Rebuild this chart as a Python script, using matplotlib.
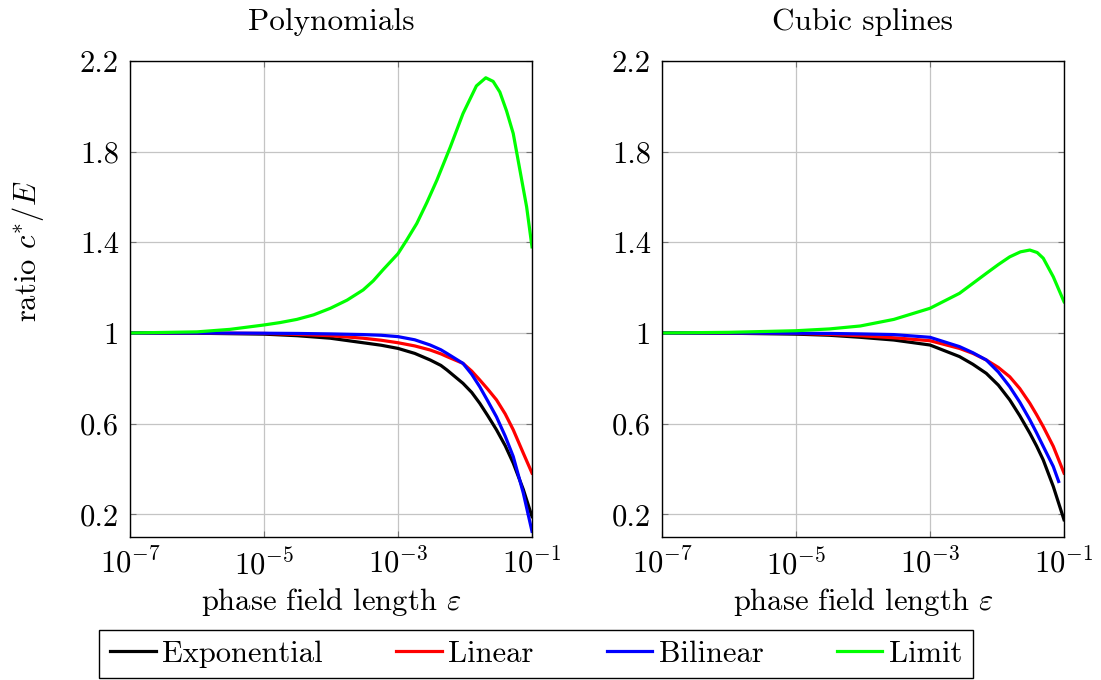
import numpy as np
import matplotlib
matplotlib.use("Agg")
import matplotlib.pyplot as plt
from matplotlib.ticker import FixedLocator, FixedFormatter, NullLocator

plt.rcParams['font.family'] = 'cmr10'
plt.rcParams['mathtext.fontset'] = 'cm'
plt.rcParams['axes.formatter.use_mathtext'] = True
plt.rcParams['font.size'] = 22

# --- Polynomials (x given as log10 eps) ---
exps_poly = [-7, -6, -5, -4.5, -4.01, -3.52, -3.25, -3.0, -2.75, -2.52, -2.36, -2.27,
             -2.03, -1.9, -1.78, -1.66, -1.53, -1.4, -1.28, -1.13, -1.0]
poly_exponential = [1.0, 0.999, 0.995, 0.988, 0.977, 0.957, 0.946, 0.932, 0.91, 0.881, 0.857,
                    0.837, 0.778, 0.738, 0.69, 0.635, 0.573, 0.503, 0.426, 0.31, 0.19]
poly_linear = [1.0, 1.0, 0.998, 0.994, 0.988, 0.977, 0.968, 0.957, 0.943, 0.925, 0.908,
               0.896, 0.866, 0.832, 0.793, 0.752, 0.705, 0.643, 0.573, 0.47, 0.382]
poly_bilinear = [1.0, 1.0, 0.999, 0.998, 0.996, 0.993, 0.99, 0.984, 0.97, 0.947, 0.926,
                 0.91, 0.866, 0.818, 0.763, 0.70, 0.63, 0.545, 0.455, 0.294, 0.125]
exps_poly_limit = [-7, -6, -5.51, -5.01, -4.76, -4.51, -4.26, -4.01, -3.76, -3.52, -3.37,
                   -3.22, -3.11, -3.0, -2.87, -2.72, -2.57, -2.42, -2.22, -2.03, -1.83,
                   -1.69, -1.58, -1.48, -1.38, -1.28, -1.18, -1.08, -1.0]
poly_limit = [1.0, 1.005, 1.016, 1.035, 1.046, 1.06, 1.08, 1.109, 1.145, 1.19, 1.23,
              1.28, 1.315, 1.35, 1.41, 1.483, 1.575, 1.674, 1.82, 1.968, 2.09,
              2.126, 2.11, 2.063, 1.98, 1.88, 1.718, 1.556, 1.38]

# --- Cubic splines ---
exps_spl = [-7, -6, -5, -4.5, -4.04, -3.54, -3.0, -2.56, -2.36, -2.16, -1.98, -1.81,
            -1.66, -1.51, -1.41, -1.31, -1.16, -1.0]
spl_exponential = [1.0, 0.999, 0.995, 0.99, 0.981, 0.969, 0.947, 0.896, 0.862, 0.822,
                   0.77, 0.705, 0.635, 0.558, 0.502, 0.44, 0.323, 0.176]
spl_linear = [1.0, 1.0, 0.998, 0.994, 0.988, 0.979, 0.966, 0.932, 0.91, 0.881,
              0.848, 0.807, 0.755, 0.69, 0.64, 0.587, 0.5, 0.382]
exps_spl_bilinear = [-7, -6, -5, -4.5, -4.04, -3.54, -3.0, -2.56, -2.36, -2.16, -1.98,
                     -1.81, -1.66, -1.51, -1.41, -1.31, -1.16, -1.08]
spl_bilinear = [1.0, 1.0, 0.999, 0.998, 0.996, 0.993, 0.981, 0.94, 0.913, 0.881,
                0.828, 0.763, 0.695, 0.617, 0.56, 0.5, 0.411, 0.345]
exps_spl_limit = [-7, -6, -5, -4.5, -4.04, -3.54, -3.0, -2.56, -2.16, -1.98, -1.81,
                  -1.65, -1.51, -1.4, -1.31, -1.16, -1.0]
spl_limit = [1.0, 1.003, 1.01, 1.018, 1.031, 1.06, 1.109, 1.175, 1.263, 1.302, 1.336,
             1.358, 1.366, 1.355, 1.33, 1.248, 1.138]

labels = ['Exponential', 'Linear', 'Bilinear', 'Limit']
colors = ['black', '#ff0000', '#0000ff', '#00ff00']
titles = ['Polynomials', 'Cubic splines']
yticks = [0.2, 0.6, 1.0, 1.4, 1.8, 2.2]
ytick_labels = ['0.2', '0.6', '1', '1.4', '1.8', '2.2']
xticks = [1e-7, 1e-5, 1e-3, 1e-1]


def style_axes(ax, title):
    ax.set_xscale('log')
    ax.set_xlim(1e-7, 1e-1)
    ax.set_ylim(0.1, 2.2)
    ax.xaxis.set_major_locator(FixedLocator(xticks))
    ax.xaxis.set_minor_locator(NullLocator())
    ax.yaxis.set_major_locator(FixedLocator(yticks))
    ax.yaxis.set_major_formatter(FixedFormatter(ytick_labels))
    ax.grid(True, color='#c4c4c4', lw=0.9)
    ax.tick_params(direction='in', top=True, right=True, length=4,
                   width=0.8, color='0.45', pad=8)
    for s in ax.spines.values():
        s.set_linewidth(1.0)
    ax.set_title(title, fontsize=22.5, pad=22)
    ax.set_xlabel(r'phase field length $\varepsilon$', labelpad=4)


def lx(e):
    return 10.0 ** np.array(e)


fig = plt.figure(figsize=(11.01, 6.80), dpi=100)
ax1 = fig.add_axes([130 / 1101, 143 / 680, 402 / 1101, 476 / 680])
ax2 = fig.add_axes([662 / 1101, 143 / 680, 402 / 1101, 476 / 680])

lw = 2.3
handles = []
for xs, series, c, lab in zip([exps_poly, exps_poly, exps_poly, exps_poly_limit],
                              [poly_exponential, poly_linear, poly_bilinear, poly_limit],
                              colors, labels):
    h, = ax1.plot(lx(xs), series, color=c, lw=lw, label=lab)
    handles.append(h)

for xs, series, c in zip([exps_spl, exps_spl, exps_spl_bilinear, exps_spl_limit],
                         [spl_exponential, spl_linear, spl_bilinear, spl_limit], colors):
    ax2.plot(lx(xs), series, color=c, lw=lw)

style_axes(ax1, titles[0])
style_axes(ax2, titles[1])
ax1.set_ylabel(r'ratio $c^{*}/E$')
ax1.yaxis.set_label_coords(-0.21, 0.6)

fig.legend(handles, labels, loc='center', bbox_to_anchor=(536 / 1101, 1 - 654 / 680),
           ncol=4, frameon=True, fancybox=False, edgecolor='black', framealpha=1,
           handlelength=1.5, handletextpad=0.2, columnspacing=2.4,
           borderpad=0.35, borderaxespad=0)

fig.savefig('out.png', dpi=100)
